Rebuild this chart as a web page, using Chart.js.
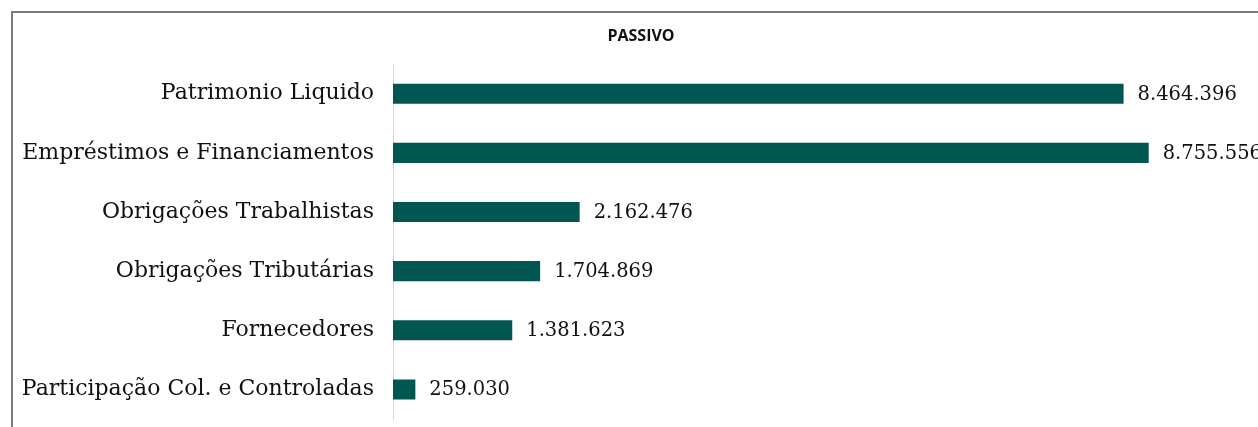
<!DOCTYPE html>
<html>
<head>
    <meta charset="UTF-8">
    <title>Passivo</title>
    <style>
        html, body { margin: 0; padding: 0; background: #fff; overflow: hidden; }
        #frame { position: absolute; left: 11px; top: 11px; width: 1400px; height: 600px;
                 border-left: 2px solid #7a7a7a; border-top: 2px solid #7a7a7a; }
        #wrap { position: absolute; left: 0; top: 0; width: 1282px; height: 427px; }
    </style>
    <script src="https://cdnjs.cloudflare.com/ajax/libs/Chart.js/4.4.1/chart.umd.min.js"></script>
</head>
<body>
    <div id="frame"></div>
    <div id="wrap"><canvas id="passivoChart"></canvas></div>

    <script>
        // data
        const categories = [
            "Patrimonio Liquido",
            "Empréstimos e Financiamentos",
            "Obrigações Trabalhistas",
            "Obrigações Tributárias",
            "Fornecedores",
            "Participação Col. e Controladas"
        ];
        const values = [8464396, 8755556, 2162476, 1704869, 1381623, 259030];
        const chartTitle = "PASSIVO";

        const serif = "'DejaVu Serif', 'Liberation Serif', serif";

        function fmt(v) {
            return String(v).replace(/\B(?=(\d{3})+(?!\d))/g, ".");
        }

        // value labels to the right of each bar
        const valueLabels = {
            id: "valueLabels",
            afterDatasetsDraw(chart) {
                const c = chart.ctx;
                const meta = chart.getDatasetMeta(0);
                c.save();
                c.font = "19.5px " + serif;
                c.fillStyle = "#111";
                c.textBaseline = "middle";
                c.textAlign = "left";
                meta.data.forEach((bar, i) => {
                    c.fillText(fmt(values[i]), bar.x + 14, bar.y + 1);
                });
                c.restore();
            }
        };

        const ctx = document.getElementById("passivoChart").getContext("2d");
        new Chart(ctx, {
            type: "bar",
            data: {
                labels: categories,
                datasets: [{
                    data: values,
                    backgroundColor: "#005650",
                    borderWidth: 0,
                    barPercentage: 1,
                    categoryPercentage: 0.34
                }]
            },
            plugins: [valueLabels],
            options: {
                indexAxis: "y",
                responsive: true,
                maintainAspectRatio: false,
                animation: false,
                layout: { padding: { top: 0, right: 0, bottom: 8, left: 0 } },
                plugins: {
                    legend: { display: false },
                    tooltip: { enabled: false },
                    title: {
                        display: true,
                        text: chartTitle,
                        color: "#111",
                        font: { family: "'Open Sans', sans-serif", size: 16, weight: "bold" },
                        padding: { top: 27, bottom: 18 }
                    }
                },
                scales: {
                    x: {
                        display: false,
                        min: 0,
                        max: 10300000
                    },
                    y: {
                        grid: { display: false, drawTicks: false },
                        border: { display: true, color: "#d9d9d9", width: 1 },
                        ticks: {
                            color: "#111",
                            padding: 19,
                            font: { family: serif, size: 22 }
                        },
                        afterFit(scale) {
                            scale.width = 393;
                            scale.paddingTop = 0;
                            scale.paddingBottom = 0;
                        }
                    }
                }
            }
        });
    </script>
</body>
</html>
